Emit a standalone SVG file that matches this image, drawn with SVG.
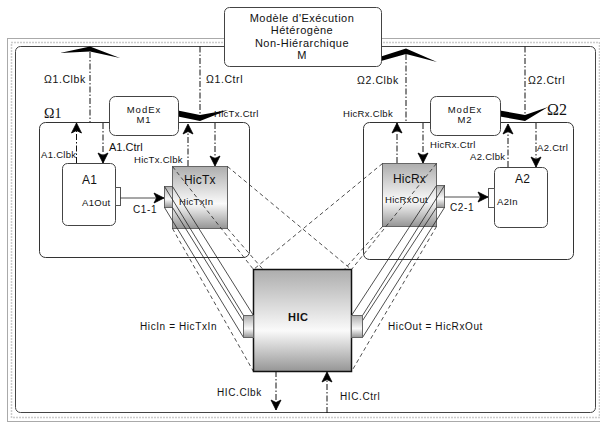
<svg xmlns="http://www.w3.org/2000/svg" width="600" height="423" viewBox="0 0 600 423">
<defs>
<style>
text{font-family:"Liberation Sans",Arial,sans-serif;fill:#111}
.s95{font-size:9.5px;letter-spacing:0.3px}
.s10{font-size:10px;letter-spacing:0.6px}
.s105{font-size:10.5px;letter-spacing:0.6px}
.s11{font-size:11px;letter-spacing:0.5px}
.s12{font-size:12px;letter-spacing:0.2px}
.mx{font-size:9.5px;letter-spacing:1px}
.om{font-family:"Liberation Serif","Times New Roman",serif}
.ctl{fill:none;stroke:#111;stroke-width:1;stroke-dasharray:6 2 1.5 2}
.dsh{fill:none;stroke:#222;stroke-width:0.8;stroke-dasharray:4 3}
.sol{fill:none;stroke:#222;stroke-width:0.8}
.box{fill:#fff;stroke:#444;stroke-width:1}
.grad{fill:url(#gv);stroke:#666;stroke-width:1}
.chev{fill:#000}
</style>
<linearGradient id="gv" x1="0" y1="0" x2="0" y2="1">
<stop offset="0" stop-color="#adadad"/>
<stop offset="0.6" stop-color="#fafafa"/>
<stop offset="1" stop-color="#959595"/>
</linearGradient>
<marker id="ah" viewBox="-12 -7 14 14" refX="0" refY="0" markerWidth="14" markerHeight="14" markerUnits="userSpaceOnUse" orient="auto">
<path d="M0,0 L-10,-5 L-7.5,0 L-10,5 Z" fill="#000" stroke="#000" stroke-width="0.8" stroke-linejoin="round"/>
</marker>
</defs>
<rect width="600" height="423" fill="#fff"/>

<g id="frame">
<rect x="7.5" y="38.5" width="596" height="383" fill="none" stroke="#555" stroke-dasharray="1 1"/>
<rect x="11.5" y="42.5" width="588" height="375" fill="none" stroke="#999" stroke-width="1.5" stroke-dasharray="1 2"/>
<rect x="15.5" y="46.5" width="580" height="366" rx="5" fill="none" stroke="#444"/>
</g>

<g id="omega1">
<rect x="39.5" y="122.5" width="210" height="135" rx="6" fill="#fff" stroke="#333"/>
<text class="om" x="44" y="118" font-size="14">Ω1</text>
</g>
<g id="omega2">
<rect x="363.5" y="122.5" width="210" height="137" rx="6" fill="#fff" stroke="#333"/>
<text class="om" x="547" y="115" font-size="16">Ω2</text>
</g>

<g id="a1">
<rect class="box" x="62.5" y="163.5" width="53" height="62" rx="5"/>
<rect x="115.5" y="187.5" width="5" height="18" fill="#fff" stroke="#555"/>
<text class="s12" x="82" y="184">A1</text>
<text class="s95" x="82" y="206">A1Out</text>
</g>
<g id="a2">
<rect class="box" x="494.5" y="167.5" width="53" height="60" rx="5"/>
<rect x="488.5" y="188.5" width="6" height="19" fill="#fff" stroke="#555"/>
<text class="s12" x="515" y="183">A2</text>
<text class="s95" x="497" y="205">A2In</text>
</g>
<g id="hictx">
<rect class="grad" x="172.5" y="166.5" width="55" height="62"/>
<rect class="grad" x="164.5" y="186.5" width="8" height="21"/>
<text class="s12" x="184" y="184">HicTx</text>
<text class="s95" x="179" y="205">HicTxIn</text>
</g>
<g id="hicrx">
<rect class="grad" x="382.5" y="163.5" width="54" height="63"/>
<rect class="grad" x="436.5" y="185.5" width="8" height="22"/>
<text class="s12" x="393" y="183">HicRx</text>
<text class="s95" x="385" y="203">HicRxOut</text>
</g>

<g id="connectors">
<polygon class="chev" points="60,53 90,46.5 120,58 90,51.5"/>
<polygon class="chev" points="178,110.5 200,115 228,110 200,121 178,116.5"/>
<polygon class="chev" points="381,56.5 406,48.5 437,62 406,54 381,61"/>
<polygon class="chev" points="500,110.5 525,115 548,107 525,121 500,116.5"/>
<line class="ctl" x1="90" y1="52" x2="90" y2="122"/>
<line class="ctl" x1="200" y1="46.5" x2="200" y2="115"/>
<line class="ctl" x1="406" y1="54" x2="406" y2="122"/>
<line class="ctl" x1="525" y1="46.5" x2="525" y2="115"/>
<line class="ctl" x1="76.5" y1="163" x2="76.5" y2="123" marker-end="url(#ah)"/>
<line class="ctl" x1="103" y1="123" x2="103" y2="163" marker-end="url(#ah)"/>
<line class="ctl" x1="188" y1="166" x2="188" y2="124" marker-end="url(#ah)"/>
<line class="ctl" x1="215" y1="123" x2="215" y2="166" marker-end="url(#ah)"/>
<line class="ctl" x1="397" y1="163" x2="397" y2="123" marker-end="url(#ah)"/>
<line class="ctl" x1="423" y1="123" x2="423" y2="163" marker-end="url(#ah)"/>
<line class="ctl" x1="508" y1="167" x2="508" y2="124" marker-end="url(#ah)"/>
<line class="ctl" x1="536" y1="123" x2="536" y2="167" marker-end="url(#ah)"/>
<line class="ctl" x1="276" y1="371" x2="276" y2="410" marker-end="url(#ah)"/>
<line class="ctl" x1="327" y1="413" x2="327" y2="372" marker-end="url(#ah)"/>
<line class="sol" x1="120.5" y1="198" x2="164" y2="198" stroke-width="1" marker-end="url(#ah)"/>
<line class="sol" x1="444.5" y1="197" x2="488" y2="197" stroke-width="1" marker-end="url(#ah)"/>
<line class="dsh" x1="172.5" y1="166.5" x2="253.5" y2="269.5"/>
<line class="dsh" x1="227.5" y1="166.5" x2="351.5" y2="269.5"/>
<line class="dsh" x1="172.5" y1="228.5" x2="253.5" y2="371.5"/>
<line class="dsh" x1="227.5" y1="228.5" x2="351.5" y2="371.5"/>
<line class="dsh" x1="382.5" y1="163.5" x2="253.5" y2="269.5"/>
<line class="dsh" x1="436.5" y1="163.5" x2="351.5" y2="269.5"/>
<line class="dsh" x1="382.5" y1="226.5" x2="253.5" y2="371.5"/>
<line class="dsh" x1="436.5" y1="226.5" x2="351.5" y2="371.5"/>
<line class="sol" x1="164.5" y1="186.5" x2="243.5" y2="315.5"/>
<line class="sol" x1="172.5" y1="186.5" x2="253.5" y2="315.5"/>
<line class="sol" x1="164.5" y1="207.5" x2="243.5" y2="337.5"/>
<line class="sol" x1="172.5" y1="207.5" x2="253.5" y2="337.5"/>
<line class="sol" x1="436.5" y1="185.5" x2="351.5" y2="315.5"/>
<line class="sol" x1="444.5" y1="185.5" x2="362.5" y2="315.5"/>
<line class="sol" x1="436.5" y1="207.5" x2="351.5" y2="337.5"/>
<line class="sol" x1="444.5" y1="207.5" x2="362.5" y2="337.5"/>
<text class="s105" x="44" y="82.5">Ω1.Clbk</text>
<text class="s105" x="206" y="82.5">Ω1.Ctrl</text>
<text class="s105" x="357" y="84">Ω2.Clbk</text>
<text class="s105" x="528" y="84">Ω2.Ctrl</text>
<text class="s95" x="214" y="117">HicTx.Ctrl</text>
<text class="s95" x="343" y="117">HicRx.Clbk</text>
<text x="109" y="150.5" font-size="11">A1.Ctrl</text>
<text class="s95" x="41" y="158">A1.Clbk</text>
<text class="s95" x="134" y="163">HicTx.Clbk</text>
<text class="s95" x="430" y="148">HicRx.Ctrl</text>
<text class="s95" x="470" y="160">A2.Clbk</text>
<text class="s95" x="537" y="150.5">A2.Ctrl</text>
<text class="s10" x="133" y="213" letter-spacing="0.3">C1-1</text>
<text class="s10" x="450" y="211" letter-spacing="0.3">C2-1</text>
<text class="s10" x="140" y="330">HicIn = HicTxIn</text>
<text class="s10" x="388" y="330">HicOut = HicRxOut</text>
<text class="s10" x="217" y="396">HIC.Clbk</text>
<text class="s10" x="340" y="400">HIC.Ctrl</text>
</g>

<g id="modex1">
<rect class="box" x="109.5" y="96.5" width="69" height="39" rx="6"/>
<text class="mx" x="144" y="112.5" text-anchor="middle">ModEx</text>
<text class="mx" x="144" y="122.5" text-anchor="middle">M1</text>
</g>
<g id="modex2">
<rect class="box" x="430.5" y="96.5" width="70" height="39" rx="6"/>
<text class="mx" x="465" y="112.5" text-anchor="middle">ModEx</text>
<text class="mx" x="465" y="122.5" text-anchor="middle">M2</text>
</g>

<g id="hic">
<rect x="253.5" y="269.5" width="98" height="102" fill="url(#gv)" stroke="#111" stroke-width="1.5"/>
<rect class="grad" x="243.5" y="315.5" width="10" height="22"/>
<rect class="grad" x="351.5" y="315.5" width="11" height="22"/>
<text x="288" y="321" font-size="11" font-weight="bold" letter-spacing="0.5">HIC</text>
</g>

<g id="modele">
<rect class="box" x="224.5" y="7.5" width="157" height="59" rx="5"/>
<text class="s11" x="302" y="21.5" text-anchor="middle">Modèle d'Exécution</text>
<text class="s11" x="302" y="34" text-anchor="middle">Hétérogène</text>
<text class="s11" x="302" y="46.5" text-anchor="middle">Non-Hiérarchique</text>
<text class="s11" x="302" y="59" text-anchor="middle">M</text>
</g>
</svg>
